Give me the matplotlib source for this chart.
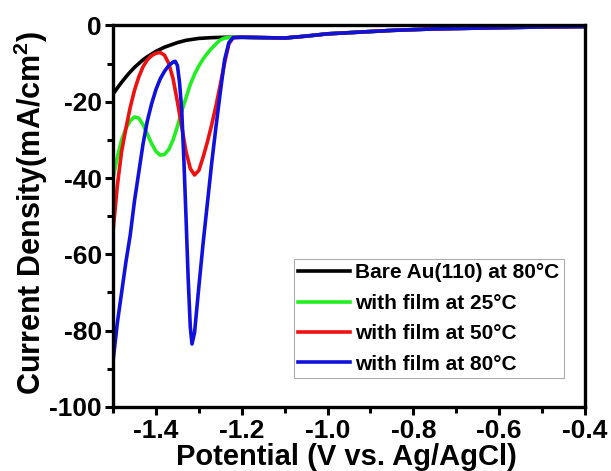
import matplotlib
matplotlib.use("Agg")
import matplotlib.pyplot as plt
from matplotlib.ticker import MultipleLocator

plt.rcParams['font.family'] = ['Liberation Sans', 'DejaVu Sans']
plt.rcParams['font.weight'] = 'bold'
plt.rcParams['mathtext.fontset'] = 'custom'
plt.rcParams['mathtext.rm'] = 'Liberation Sans:bold'
plt.rcParams['mathtext.bf'] = 'Liberation Sans:bold'
plt.rcParams['mathtext.it'] = 'Liberation Sans:bold'

# shared tail (all curves merge)
tail_x = [-1.20, -1.15, -1.10, -1.05, -1.00, -0.95, -0.90, -0.85, -0.80, -0.75, -0.70, -0.65, -0.60, -0.50, -0.40]
tail_y = [-3.1, -3.2, -3.3, -2.8, -2.2, -1.9, -1.6, -1.3, -1.1, -0.9, -0.8, -0.7, -0.6, -0.4, -0.3]

bare_x = [-1.50, -1.49, -1.48, -1.47, -1.46, -1.45, -1.44, -1.43, -1.42, -1.40, -1.38, -1.36, -1.35, -1.33, -1.30, -1.27, -1.24, -1.22]
bare_y = [-18.0, -16.4, -14.9, -13.5, -12.2, -11.0, -10.0, -9.0, -8.2, -6.8, -5.7, -4.9, -4.5, -3.9, -3.4, -3.2, -3.1, -3.1]

g25_x = [-1.50, -1.49, -1.48, -1.47, -1.46, -1.45, -1.44, -1.43, -1.42, -1.41, -1.40, -1.39, -1.38, -1.37,
         -1.36, -1.35, -1.34, -1.33, -1.32, -1.31, -1.30, -1.29, -1.28, -1.27, -1.26, -1.25, -1.24, -1.22]
g25_y = [-40.0, -34.5, -30.0, -27.0, -25.0, -24.0, -24.3, -26.0, -28.5, -31.0, -33.0, -34.0, -33.8, -32.5,
         -30.0, -26.5, -22.5, -19.0, -15.5, -12.8, -10.6, -8.8, -7.3, -6.0, -4.8, -3.8, -3.3, -3.1]

r50_x = [-1.50, -1.49, -1.48, -1.47, -1.46, -1.45, -1.44, -1.43, -1.42, -1.41, -1.40, -1.39, -1.38, -1.37,
         -1.36, -1.35, -1.34, -1.33, -1.32, -1.31, -1.30, -1.29, -1.28, -1.27, -1.26, -1.25, -1.24, -1.23, -1.22]
r50_y = [-54.0, -42.0, -33.0, -27.0, -21.5, -17.0, -13.5, -10.8, -9.0, -7.9, -7.3, -7.1, -7.8, -10.0,
         -14.0, -20.0, -26.5, -33.0, -37.5, -39.2, -38.0, -34.5, -30.5, -26.0, -21.0, -15.5, -9.8, -4.8, -3.2]

b80_x = [-1.50, -1.49, -1.48, -1.47, -1.46, -1.45, -1.44, -1.43, -1.42, -1.41, -1.40, -1.39, -1.38, -1.37,
         -1.36, -1.355, -1.35, -1.345, -1.34, -1.335, -1.33, -1.325, -1.32, -1.316, -1.31, -1.30, -1.29,
         -1.28, -1.27, -1.26, -1.25, -1.24, -1.23, -1.22]
b80_y = [-88.0, -78.0, -70.0, -62.0, -55.0, -46.0, -38.5, -31.0, -25.0, -20.5, -16.8, -14.0, -12.0, -10.5,
         -9.6, -9.4, -10.5, -15.0, -22.0, -35.0, -50.0, -66.0, -79.0, -83.5, -80.5, -68.5, -57.0,
         -46.5, -36.0, -26.5, -17.5, -9.0, -4.5, -3.2]

labels = ['Bare Au(110) at 80°C',
          'with film at 25°C',
          'with film at 50°C',
          'with film at 80°C']
colors = ['#000000', '#22ee22', '#ee1111', '#1111dd']

fig = plt.figure(figsize=(6.11, 4.71), dpi=100)
ax = fig.add_axes([0.185, 0.136, 0.7725, 0.81])

series = [(bare_x, bare_y), (g25_x, g25_y), (r50_x, r50_y), (b80_x, b80_y)]
for (xs, ys), lab, c in zip(series, labels, colors):
    ax.plot(list(xs) + tail_x, list(ys) + tail_y, color=c, lw=2.6, label=lab, solid_joinstyle='round')

ax.set_xlim(-1.5, -0.4)
ax.set_ylim(-100, 0)
ax.xaxis.set_minor_locator(MultipleLocator(0.1))
ax.yaxis.set_minor_locator(MultipleLocator(10))
ax.set_xticks([-1.4, -1.2, -1.0, -0.8, -0.6, -0.4])
ax.set_xticklabels(['-1.4', '-1.2', '-1.0', '-0.8', '-0.6', '-0.4'])
ax.set_yticks([0, -20, -40, -60, -80, -100])
ax.set_yticklabels(['0', '-20', '-40', '-60', '-80', '-100'])
ax.tick_params(which='major', direction='out', length=6, width=2.2, labelsize=19)
ax.tick_params(axis='x', which='major', pad=3)
ax.tick_params(axis='y', which='major', pad=2)
ax.tick_params(which='minor', direction='out', length=4, width=2.2)
for s in ax.spines.values():
    s.set_linewidth(2.4)

ax.set_xlabel('Potential (V vs. Ag/AgCl)', fontsize=21, fontweight='bold')
ax.xaxis.set_label_coords(0.495, -0.095)
ax.set_ylabel(r'Current Density(mA/cm$^{2}$)', fontsize=22, fontweight='bold')
ax.yaxis.set_label_coords(-0.134, 0.51)

leg = ax.legend(loc='lower right', bbox_to_anchor=(0.955, 0.076), fontsize=15, frameon=True, fancybox=False,
                handlelength=2.5, handletextpad=0.25, borderpad=0.2, labelspacing=0.55, borderaxespad=0)
leg.get_frame().set_edgecolor('#999999')
leg.get_frame().set_linewidth(0.8)
for t in leg.get_texts():
    t.set_fontweight('bold')

fig.savefig('out.png', dpi=100)
